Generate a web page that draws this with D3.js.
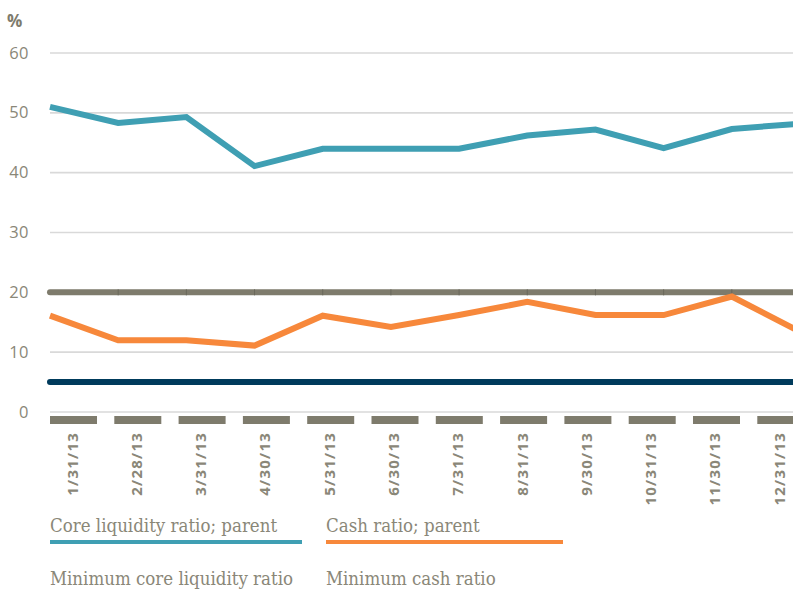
<!DOCTYPE html>
<html>
<head>
<meta charset="utf-8">
<script src="https://cdn.jsdelivr.net/npm/d3@7"></script>
<style>
  html, body { margin: 0; padding: 0; background: #ffffff; }
  svg { display: block; }
</style>
</head>
<body>
<svg id="chart" width="793" height="594"></svg>
<script>
// Month-end reporting dates
const months = ["1/31/13", "2/28/13", "3/31/13", "4/30/13", "5/31/13", "6/30/13",
                "7/31/13", "8/31/13", "9/30/13", "10/31/13", "11/30/13", "12/31/13"];

// Ratios in percent
const coreLiquidity = [51.0, 48.3, 49.3, 41.1, 44.0, 44.0, 44.0, 46.2, 47.2, 44.1, 47.3, 48.2];
const cashRatio     = [16.1, 12.0, 12.0, 11.1, 16.1, 14.2, 16.2, 18.4, 16.2, 16.2, 19.3, 13.4];
const minCore       = [20, 20, 20, 20, 20, 20, 20, 20, 20, 20, 20, 20];
const minCash       = [5, 5, 5, 5, 5, 5, 5, 5, 5, 5, 5, 5];

const yTicks = [0, 10, 20, 30, 40, 50, 60];

const legendItems = [
  { label: "Core liquidity ratio; parent", color: "#3f9fb3", swatch: true },
  { label: "Cash ratio; parent", color: "#f7883b", swatch: true },
  { label: "Minimum core liquidity ratio", color: "#7e7b6c", swatch: false },
  { label: "Minimum cash ratio", color: "#003b5c", swatch: false }
];

const textColor = "#8a8778";
const svg = d3.select("#chart");

const x = d3.scalePoint().domain(months).range([50, 800]);
const y = d3.scaleLinear().domain([0, 60]).range([412, 53]);

// Horizontal gridlines
svg.append("g")
  .selectAll("line")
  .data(yTicks)
  .join("line")
  .attr("x1", 50).attr("x2", 793)
  .attr("y1", d => y(d)).attr("y2", d => y(d))
  .attr("stroke", "#d9d9d9")
  .attr("stroke-width", 1.6);

// Y tick labels
svg.append("g")
  .selectAll("text")
  .data(yTicks)
  .join("text")
  .attr("x", 29)
  .attr("y", d => y(d) + 5.5)
  .attr("text-anchor", "end")
  .attr("font-family", "'Open Sans', sans-serif")
  .attr("font-size", 16.5)
  .attr("letter-spacing", 0.5)
  .attr("fill", textColor)
  .text(d => d);

svg.append("text")
  .attr("x", 7).attr("y", 27)
  .attr("font-family", "'Open Sans', sans-serif")
  .attr("font-size", 17)
  .attr("font-weight", "bold")
  .attr("fill", "#7e7b6c")
  .text("%");

// Category band under the plot: dashed bar plus rotated date labels
const band = d3.scaleBand().domain(months).range([50, 804.3]).paddingInner(0.269).paddingOuter(0);

svg.append("g")
  .selectAll("rect")
  .data(months)
  .join("rect")
  .attr("x", d => band(d))
  .attr("y", 416)
  .attr("width", band.bandwidth())
  .attr("height", 8)
  .attr("fill", "#7e7b6c");

svg.append("g")
  .selectAll("text")
  .data(months)
  .join("text")
  .attr("transform", d => `translate(${band(d) + band.bandwidth() / 2 + 4},432) rotate(-90)`)
  .attr("text-anchor", "end")
  .attr("font-family", "'Open Sans', sans-serif")
  .attr("font-size", 15)
  .attr("font-weight", "bold")
  .attr("letter-spacing", 1.2)
  .attr("fill", textColor)
  .text(d => d);

const line = d3.line()
  .x((d, i) => x(months[i]))
  .y(d => y(d));

function drawSeries(values, color, cap) {
  svg.append("path")
    .datum(values)
    .attr("d", line)
    .attr("fill", "none")
    .attr("stroke", color)
    .attr("stroke-width", 6)
    .attr("stroke-linejoin", "miter")
    .attr("stroke-linecap", cap);
}

// Minimum core liquidity requirement with point markers
drawSeries(minCore, "#7e7b6c", "round");
svg.append("g")
  .selectAll("line")
  .data(months.slice(1))
  .join("line")
  .attr("x1", d => x(d)).attr("x2", d => x(d))
  .attr("y1", y(20) - 3).attr("y2", y(20) + 3)
  .attr("stroke", "#6a685b")
  .attr("stroke-width", 1);

drawSeries(minCash, "#003b5c", "round");
drawSeries(cashRatio, "#f7883b", "butt");
drawSeries(coreLiquidity, "#3f9fb3", "butt");

// Legend
const legendPos = [
  { x: 50, y: 532, w: 252 },
  { x: 326, y: 532, w: 237 },
  { x: 50, y: 585, w: 0 },
  { x: 326, y: 585, w: 0 }
];

const lg = svg.append("g")
  .selectAll("g")
  .data(legendItems)
  .join("g")
  .attr("transform", (d, i) => `translate(${legendPos[i].x},${legendPos[i].y})`);

lg.append("text")
  .attr("font-family", "'DejaVu Serif Condensed', 'DejaVu Serif', serif")
  .attr("font-size", 18.5)
  .attr("fill", textColor)
  .text(d => d.label);

lg.filter(d => d.swatch)
  .append("line")
  .attr("x1", 0)
  .attr("x2", (d, i) => legendPos[i].w)
  .attr("y1", 10).attr("y2", 10)
  .attr("stroke", d => d.color)
  .attr("stroke-width", 4);
</script>
</body>
</html>
